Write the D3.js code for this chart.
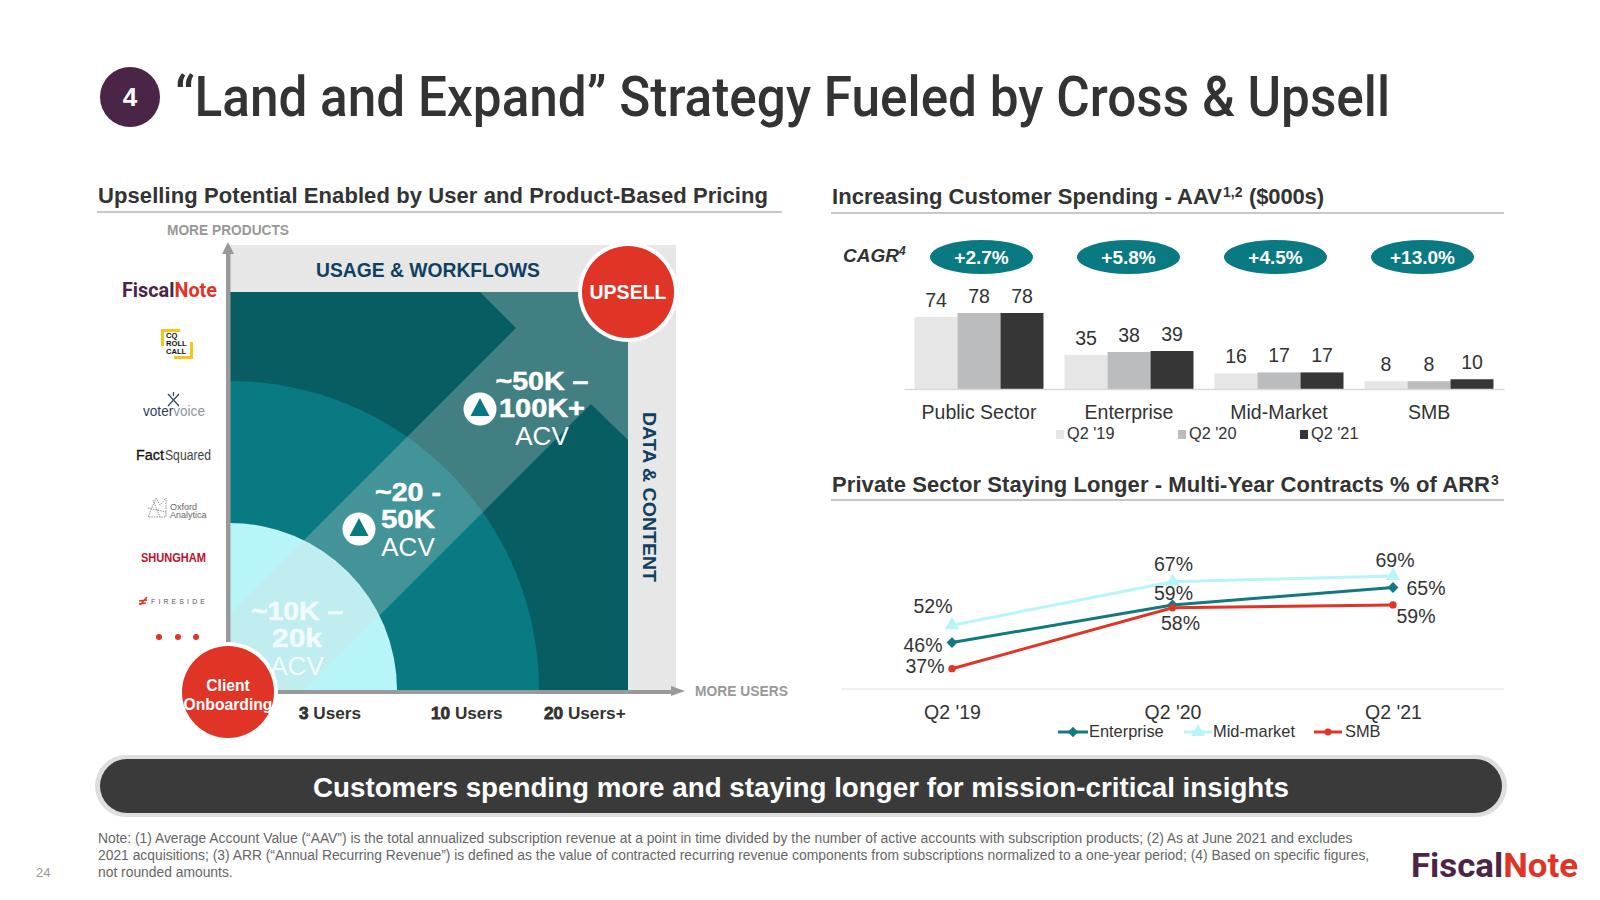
<!DOCTYPE html>
<html><head><meta charset="utf-8">
<script src="https://cdnjs.cloudflare.com/ajax/libs/d3/7.8.5/d3.min.js"></script>
<style>html,body{margin:0;padding:0;background:#fff}svg{display:block}text{font-family:"Liberation Sans",Arial,sans-serif}</style>
</head><body><div id="c"></div>
<script>
// ---- data ----
const barCategories = ["Public Sector","Enterprise","Mid-Market","SMB"];
const barPeriods = ["Q2 '19","Q2 '20","Q2 '21"];
const barQ219 = [74,35,16,8];
const barQ220 = [78,38,17,8];
const barQ221 = [78,39,17,10];
const cagrLabels = ["+2.7%","+5.8%","+4.5%","+13.0%"];
const linePeriods = ["Q2 '19","Q2 '20","Q2 '21"];
const enterprise = [46,59,65];
const midMarket = [52,67,69];
const smb = [37,58,59];
const userTicks = [["3"," Users"],["10"," Users"],["20"," Users+"]];
const footnotes = [
 "Note: (1) Average Account Value (“AAV”) is the total annualized subscription revenue at a point in time divided by the number of active accounts with subscription products; (2) As at June 2021 and excludes",
 "2021 acquisitions; (3) ARR (“Annual Recurring Revenue”) is defined as the value of contracted recurring revenue components from subscriptions normalized to a one-year period; (4) Based on specific figures,",
 "not rounded amounts."];

// ---- colours ----
const TEAL_D="#085D63",TEAL="#0A7A82",CYAN="#B7F5F8",RED="#E03426",INK="#333333",NAVY="#123F5F",PLUM="#4A2548";
const svg=d3.select("#c").append("svg").attr("width",1600).attr("height",900);
function T(x,y,s,o={}){const t=svg.append("text").attr("x",x).attr("y",y).text(s)
  .attr("font-size",o.size||16).attr("fill",o.fill||INK).attr("font-weight",o.weight||400).attr("text-anchor",o.anchor||"start");
  if(o.family)t.style("font-family",o.family);if(o.italic)t.attr("font-style","italic");
  if(o.len)t.attr("textLength",o.len).attr("lengthAdjust",o.adjust||"spacingAndGlyphs");if(o.ls)t.attr("letter-spacing",o.ls);return t;}

// ---- title ----
svg.append("circle").attr("cx",130).attr("cy",97).attr("r",30).attr("fill",PLUM);
T(130,106,"4",{size:26,fill:"#fff",weight:700,anchor:"middle"});
T(175,116,"“Land and Expand” Strategy Fueled by Cross & Upsell",{size:55,weight:500,family:"Roboto",len:1215,fill:"#333"});

// ---- section headers ----
T(98,203,"Upselling Potential Enabled by User and Product-Based Pricing",{size:22,weight:700,len:670,adjust:"spacing"});
T(832,204,"Increasing Customer Spending - AAV",{size:22,weight:700,len:390,adjust:"spacing"});
T(1223,197,"1,2",{size:14,weight:700});
T(1249,204,"($000s)",{size:22,weight:700,len:75,adjust:"spacing"});
T(832,492,"Private Sector Staying Longer - Multi-Year Contracts % of ARR",{size:22,weight:700,len:658,adjust:"spacing"});
T(1491,485,"3",{size:14,weight:700});
[[97,782,212],[831,1504,213],[831,1504,500]].forEach(d=>svg.append("line").attr("x1",d[0]).attr("x2",d[1]).attr("y1",d[2]).attr("y2",d[2]).attr("stroke","#c8c8c8").attr("stroke-width",2));

// ---- matrix ----
const mx0=230,my0=690,mx1=628,my1=292;
svg.append("rect").attr("x",mx0).attr("y",245).attr("width",676-mx0).attr("height",my0-245).attr("fill","#E7E7E8");
svg.append("rect").attr("x",mx0).attr("y",my1).attr("width",mx1-mx0).attr("height",my0-my1).attr("fill",TEAL_D);
const qArc=r=>d3.arc()({innerRadius:0,outerRadius:r,startAngle:0,endAngle:Math.PI/2});
[[309,TEAL],[167,CYAN]].forEach(d=>svg.append("path").attr("d",qArc(d[0])).attr("transform",`translate(${mx0},${my0})`).attr("fill",d[1]));
svg.append("polygon").attr("points","230,614 516,328 480,292 628,292 628,440 591,404 305,690 230,690").attr("fill","#D9D9D9").attr("opacity",.28);
// axes arrows
svg.append("rect").attr("x",226).attr("y",254).attr("width",4.5).attr("height",440).attr("fill","#999");
svg.append("polygon").attr("points","228,242 222,254 234,254").attr("fill","#999");
svg.append("rect").attr("x",228).attr("y",690).attr("width",444).attr("height",4).attr("fill","#999");
svg.append("polygon").attr("points","685,691 671,686 671,696").attr("fill","#999");
T(167,235,"MORE PRODUCTS",{size:14,weight:700,fill:"#999",len:122});
T(695,696,"MORE USERS",{size:14,weight:700,fill:"#999",len:93});
T(428,277,"USAGE & WORKFLOWS",{size:20,weight:700,fill:NAVY,anchor:"middle",len:224});
svg.append("text").attr("transform","translate(643,497) rotate(90)").attr("text-anchor","middle").attr("font-size",19).attr("font-weight",700).attr("fill",NAVY).attr("textLength",170).attr("lengthAdjust","spacingAndGlyphs").text("DATA & CONTENT");
// acv text
function acv(cx,a,b,c,ya,yb,yc,op,la,lb){
  T(cx,ya,a,{size:26,weight:700,fill:"#fff",anchor:"middle",len:la}).attr("opacity",op).attr("stroke","#fff").attr("stroke-width",.5);
  T(cx,yb,b,{size:26,weight:700,fill:"#fff",anchor:"middle",len:lb}).attr("opacity",op).attr("stroke","#fff").attr("stroke-width",.5);
  T(cx,yc,c,{size:26,fill:"#fff",anchor:"middle"}).attr("opacity",op);
}
acv(297,"~10K –","20k","ACV",620,647,675,.8,92,50);
acv(408,"~20 -","50K","ACV",501,528,556,1,66,54);
acv(542,"~50K –","100K+","ACV",390,417,445,1,93,86);
[[359,529],[480,409]].forEach(c=>{
  svg.append("circle").attr("cx",c[0]).attr("cy",c[1]).attr("r",16.5).attr("fill","#fff");
  svg.append("polygon").attr("points",`${c[0]},${c[1]-11} ${c[0]-9.5},${c[1]+7} ${c[0]+9.5},${c[1]+7}`).attr("fill",TEAL);
});
// badges
function badge(cx,cy,lines){
  svg.append("circle").attr("cx",cx).attr("cy",cy).attr("r",50).attr("fill","#fff");
  svg.append("circle").attr("cx",cx).attr("cy",cy).attr("r",46).attr("fill",RED);
  lines.forEach(l=>T(cx,l[1],l[0],{size:l[2],weight:700,fill:"#fff",anchor:"middle"}));
}
badge(628,292,[["UPSELL",299,19.5]]);
badge(228,692,[["Client",691,15.7],["Onboarding",710,15.7]]);
// user ticks
[[299],[431],[544]].forEach((p,i)=>{
  const t=T(p[0],719,"",{size:17.2,weight:700,fill:"#333"});
  t.append("tspan").text(userTicks[i][0]).attr("stroke","#333").attr("stroke-width",.8);
  t.append("tspan").text(userTicks[i][1]);
});

// ---- product logos (typeset) ----
const fn=T(122,297,"",{size:21,weight:700,family:"Roboto",len:95});
fn.append("tspan").text("Fiscal").attr("fill","#4A2545");fn.append("tspan").text("Note").attr("fill",RED);
svg.append("path").attr("d","M180,330.5H162.5V346M191.5,342V357.5H174").attr("fill","none").attr("stroke","#F5C518").attr("stroke-width",3);
["CQ","ROLL","CALL"].forEach((s,i)=>T(166,338+i*8.2,s,{size:7.6,weight:700,fill:"#111"}));
svg.append("path").attr("d","M168,394L179,406M179,394L168,406M173.5,392V396").attr("stroke","#3B4A63").attr("stroke-width",1.3).attr("fill","none");
const vv=T(143,416,"",{size:15,len:62});vv.append("tspan").text("voter").attr("fill","#2F3E5C");vv.append("tspan").text("voice").attr("fill","#8C95A3");
T(136,460,"Fact",{size:15,fill:"#111",len:28}).attr("stroke","#111").attr("stroke-width",.3);
T(165,460,"Squared",{size:15,fill:"#444",len:46});
svg.append("path").attr("d","M148,517L156,498L160,505L166,498L166,517ZM148,508L166,512M153,500L160,517").attr("fill","none").attr("stroke","#777").attr("stroke-width",.8).attr("stroke-dasharray","1.5 1");
T(170,510,"Oxford",{size:9,fill:"#666"});T(170,518,"Analytica",{size:9,fill:"#666"});
T(141,562,"SHUNGHAM",{size:12,weight:700,fill:"#C0102A",len:65});
svg.append("path").attr("d","M140,605L147,597M139,601L147,600M139,604L146,603").attr("stroke",RED).attr("stroke-width",1.4);
T(151,604,"FIRESIDE",{size:7,fill:"#555",ls:3.1});
[159,178,196].forEach(x=>svg.append("circle").attr("cx",x).attr("cy",637).attr("r",3).attr("fill",RED));

// ---- bar chart ----
const barValues=[barQ219,barQ220,barQ221], barFills=["#E6E6E6","#BBBCBE","#363636"];
const x0=d3.scaleBand().domain(barCategories).range([904,1504]).paddingInner(.14).paddingOuter(.07);
const x1=d3.scaleBand().domain(barPeriods).range([0,x0.bandwidth()]);
const yB=d3.scaleLinear().domain([0,78]).range([389,313]);
const gB=svg.append("g");
barPeriods.forEach((p,pi)=>{
  const g=gB.append("g");
  g.selectAll("rect").data(barCategories).join("rect")
    .attr("x",c=>x0(c)+x1(p)).attr("width",x1.bandwidth())
    .attr("y",(c,i)=>yB(barValues[pi][i])).attr("height",(c,i)=>389-yB(barValues[pi][i])).attr("fill",barFills[pi]);
  g.selectAll("text").data(barCategories).join("text")
    .attr("x",c=>x0(c)+x1(p)+x1.bandwidth()/2).attr("y",(c,i)=>yB(barValues[pi][i])-10)
    .attr("text-anchor","middle").attr("font-size",19.5).attr("fill",INK).text((c,i)=>barValues[pi][i]);
});
const axB=svg.append("g").attr("transform","translate(0,389)").call(d3.axisBottom(x0).tickSize(0));
axB.select(".domain").attr("stroke","#d9d9d9").attr("stroke-width",1.5);
axB.selectAll("text").attr("font-size",19.5).attr("fill",INK).style("font-family",'"Liberation Sans"').attr("dy",0).attr("y",30);
// legend
[1056,1178,1300].forEach((x,i)=>{
  svg.append("rect").attr("x",x).attr("y",430).attr("width",8).attr("height",9).attr("fill",barFills[i]);
  T(x+11,439,barPeriods[i],{size:16.3});
});
// CAGR
const t4=T(843,262,"CAGR",{size:19,weight:700,italic:true});
t4.append("tspan").text("4").attr("font-size",12).attr("dy",-7);
const pillX=d3.scalePoint().domain(cagrLabels).range([981.5,1422.5]);
svg.selectAll("ellipse.p").data(cagrLabels).join("ellipse").attr("class","p").attr("cx",d=>pillX(d)).attr("cy",257).attr("rx",51.5).attr("ry",17).attr("fill",TEAL);
cagrLabels.forEach(d=>T(pillX(d),264,d,{size:19,weight:700,fill:"#fff",anchor:"middle"}));

// ---- line chart ----
const xL=d3.scalePoint().domain(linePeriods).range([952,1393]);
const yL=d3.scaleLinear().domain([30,70]).range([689,573]);
const axL=svg.append("g").attr("transform","translate(0,689)").call(d3.axisBottom(xL).tickSize(0));
axL.select(".domain").remove();
svg.append("line").attr("x1",841).attr("x2",1504).attr("y1",689).attr("y2",689).attr("stroke","#e2e2e2").attr("stroke-width",1.2);
axL.selectAll("text").attr("font-size",19.5).attr("fill",INK).style("font-family",'"Liberation Sans"').attr("dy",0).attr("y",30);
const lineGen=d3.line().x((d,i)=>xL(linePeriods[i])).y(d=>yL(d));
const series=[
 {name:"Mid-market",vals:midMarket,color:CYAN,sym:d3.symbolTriangle,size:90,off:[[-19,-12],[1,-11],[2,-9]]},
 {name:"Enterprise",vals:enterprise,color:"#12797F",sym:d3.symbolDiamond2,size:75,off:[[-29,9],[1,-5],[33,7]]},
 {name:"SMB",vals:smb,color:RED,sym:d3.symbolCircle,size:42,off:[[-27,4],[8,22],[23,18]]}];
series.forEach(s=>{
  svg.append("path").attr("d",lineGen(s.vals)).attr("fill","none").attr("stroke",s.color).attr("stroke-width",3);
  s.vals.forEach((v,i)=>svg.append("path").attr("d",d3.symbol().type(s.sym).size(s.size)()).attr("transform",`translate(${xL(linePeriods[i])},${yL(v)})`).attr("fill",s.color));
});
series.forEach(s=>s.vals.forEach((v,i)=>T(xL(linePeriods[i])+s.off[i][0],yL(v)+s.off[i][1],v+"%",{size:19.5,anchor:"middle"})));
// line legend
[[1058,1088,1089,series[1]],[1184,1212,1213,series[0]],[1314,1342,1345,series[2]]].forEach(d=>{
  svg.append("line").attr("x1",d[0]).attr("x2",d[1]).attr("y1",732).attr("y2",732).attr("stroke",d[3].color).attr("stroke-width",3);
  svg.append("path").attr("d",d3.symbol().type(d[3].sym).size(d[3].size*.9)()).attr("transform",`translate(${(d[0]+d[1])/2},732)`).attr("fill",d[3].color);
  T(d[2],737,d[3].name,{size:16.4});
});

// ---- banner ----
svg.append("rect").attr("x",95).attr("y",755).attr("width",1412).attr("height",62).attr("rx",31).attr("fill","#DEDEDE");
svg.append("rect").attr("x",100).attr("y",759).attr("width",1402).attr("height",54).attr("rx",27).attr("fill","#3A3A3A");
T(801,797,"Customers spending more and staying longer for mission-critical insights",{size:28,weight:700,fill:"#fff",anchor:"middle",len:976});

// ---- footer ----
T(36,877,"24",{size:13,fill:"#999"});
footnotes.forEach((s,i)=>T(98,843+i*17,s,{size:13.85,fill:"#666"}));
const fl=T(1411,877,"",{size:34,weight:700,family:"Roboto",len:167});
fl.append("tspan").text("Fiscal").attr("fill","#4A2545");fl.append("tspan").text("Note").attr("fill",RED);
</script></body></html>
